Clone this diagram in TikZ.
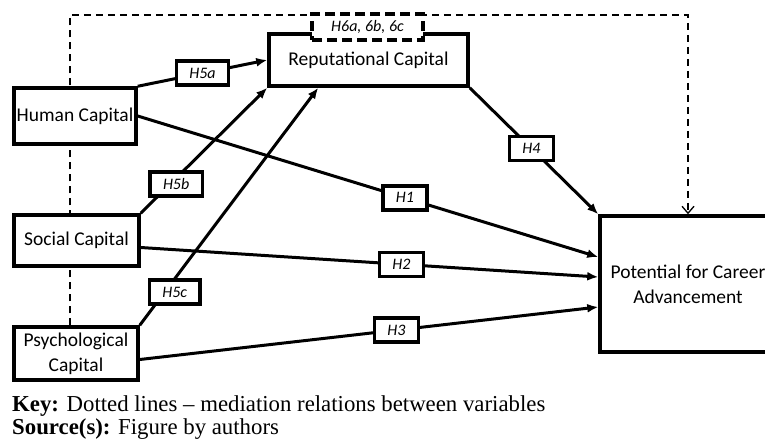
\documentclass[tikz,border=0pt]{standalone}
\usepackage{fontspec}
\setmainfont{Carlito}
\newfontfamily\keyfont{Liberation Serif}
\usetikzlibrary{arrows.meta,backgrounds}

\begin{document}
\begin{tikzpicture}[x=1pt,y=-1pt,
  capbox/.style={draw,line width=3.5pt,fill=white,align=center,inner sep=2pt,font=\fontsize{19.5}{25}\selectfont},
  hyp/.style={draw,line width=3.5pt,fill=white,font=\fontsize{16}{18}\selectfont\itshape,inner xsep=13pt,minimum height=24pt},
  medbox/.style={hyp,dash pattern=on 10pt off 5pt,minimum width=111pt,minimum height=26pt},
  link/.style={line width=3pt,-{Latex[length=11pt,width=9pt]}},
  med/.style={line width=1.3pt,dash pattern=on 7pt off 5pt,-{Straight Barb[length=7pt,width=12pt]}},
  keytext/.style={anchor=base west,inner sep=0pt,font=\keyfont\fontsize{22.8}{26}\selectfont}]
\useasboundingbox (0,0) rectangle (765,442);
\node[capbox,minimum width=122pt,minimum height=56pt] (human) at (75,116) {Human Capital};
\node[capbox,minimum width=125pt,minimum height=51pt] (social) at (76.5,240.5) {Social Capital};
\node[capbox,minimum width=124pt,minimum height=53pt] (psych) at (76,353.5) {Psychological\\Capital};
\node[capbox,minimum width=199pt,minimum height=52pt] (rep) at (368.5,60) {Reputational Capital};
\node[capbox,minimum width=176pt,minimum height=136pt] (pot) at (688,284) {Potential for Career\\Advancement};
\coordinate (mtop) at (70,15);
\begin{scope}[on background layer]
\draw[med] (psych.north -| mtop) -- (mtop) -| (pot.north);
\end{scope}
\draw[link] (human.north east) -- (rep.west) node[hyp,pos=.5] (h5a) {H5a};
\draw[link] (social.north east) -- (rep.south west) node[hyp,pos=.28,yshift=-6pt] (h5b) {H5b};
\draw[link] (psych.north east) -- ([xshift=51pt]rep.south west) node[hyp,pos=.14,xshift=10pt] (h5c) {H5c};
\draw[link] (human.east) -- ([yshift=27pt]pot.west) node[hyp,pos=.58] (h1) {H1};
\draw[link] ([yshift=-7pt]social.east) -- ([yshift=7pt]pot.west) node[hyp,pos=.57] (h2) {H2};
\draw[link] ([yshift=-6pt]psych.east) -- ([yshift=-23pt]pot.west) node[hyp,pos=.56] (h3) {H3};
\draw[link] (rep.south east) -- (pot.north west) node[hyp,pos=.48] (h4) {H4};
\node[medbox] (h6) at (367.5,27) {H6a, 6b, 6c};
\node[keytext] (key) at (12,411) {\textbf{Key:} Dotted lines – mediation relations between variables};
\node[keytext] (src) at (12,434) {\textbf{Source(s):} Figure by authors};
\end{tikzpicture}
\end{document}
